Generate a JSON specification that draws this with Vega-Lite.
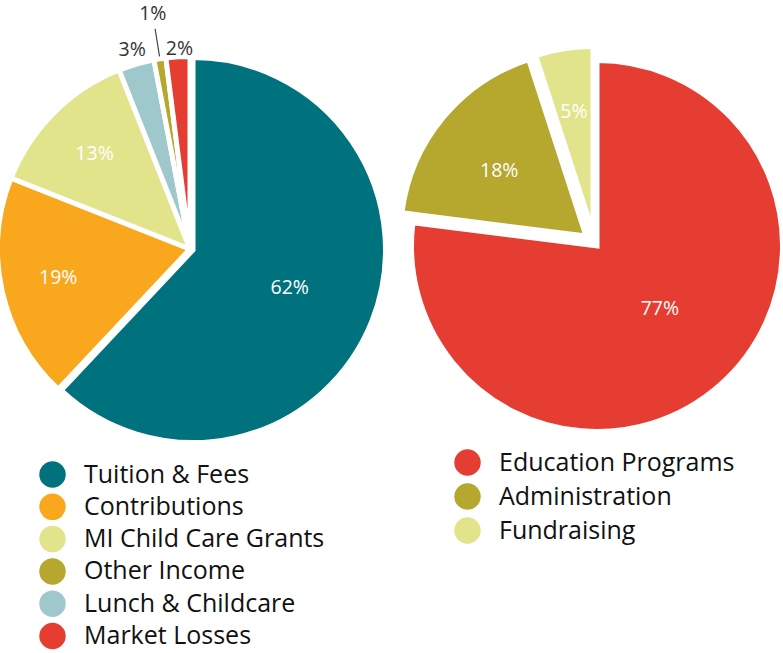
{
  "$schema": "https://vega.github.io/schema/vega-lite/v6.json",
  "padding": 0,
  "spacing": 14,
  "bounds": "flush",
  "background": "white",
  "config": {
    "view": {"stroke": null},
    "font": "Open Sans",
    "text": {"font": "Open Sans", "fontSize": 19.5},
    "legend": {
      "orient": "none",
      "title": null,
      "symbolType": "circle",
      "symbolSize": 700,
      "symbolStrokeWidth": 0,
      "symbolOpacity": 1,
      "labelFont": "Open Sans",
      "labelFontSize": 25,
      "labelLimit": 500,
      "labelColor": "#111111",
      "labelOffset": 18,
      "padding": 0,
      "rowPadding": 6
    }
  },
  "datasets": {
    "revenue": [
      {"k": "Tuition & Fees", "v": 0.62, "i": 1},
      {"k": "Contributions", "v": 0.19, "i": 2},
      {"k": "MI Child Care Grants", "v": 0.13, "i": 3},
      {"k": "Lunch & Childcare", "v": 0.03, "i": 4},
      {"k": "Other Income", "v": 0.01, "i": 5},
      {"k": "Market Losses", "v": 0.02, "i": 6}
    ],
    "expenses": [
      {"k": "Education Programs", "v": 0.77, "i": 1},
      {"k": "Administration", "v": 0.18, "i": 2},
      {"k": "Fundraising", "v": 0.05, "i": 3}
    ]
  },
  "resolve": {"scale": {"color": "independent", "theta": "independent"}},
  "hconcat": [
    {
      "width": 386,
      "height": 500,
      "data": {"name": "revenue"},
      "encoding": {
        "theta": {"field": "v", "type": "quantitative", "stack": true},
        "order": {"field": "i", "type": "quantitative"}
      },
      "layer": [
        {
          "mark": {"type": "arc", "clip": true, "radius": 192.5, "stroke": "white", "strokeWidth": 5, "xOffset": -3, "yOffset": -1},
          "encoding": {
            "color": {
              "field": "k", "type": "nominal",
              "scale": {
                "domain": ["Tuition & Fees", "Contributions", "MI Child Care Grants", "Other Income", "Lunch & Childcare", "Market Losses"],
                "range": ["#00727E", "#F9A81E", "#E1E48A", "#B6A72F", "#9FC8CD", "#E53D31"]
              },
              "legend": {"legendX": 39, "legendY": 461, "rowPadding": 5.3}
            },
            "opacity": {"condition": {"test": "datum.k == 'Tuition & Fees'", "value": 0}, "value": 1}
          }
        },
        {
          "mark": {"type": "arc", "clip": true, "radius": 192.5, "stroke": "white", "strokeWidth": 5},
          "encoding": {
            "color": {"field": "k", "type": "nominal"},
            "opacity": {"condition": {"test": "datum.k == 'Tuition & Fees'", "value": 1}, "value": 0}
          }
        },
        {
          "mark": {"type": "arc", "clip": true, "radius": 223, "radius2": 195, "padAngle": 1, "filled": false, "stroke": "#444444", "strokeWidth": 1.2, "xOffset": -3, "yOffset": -1},
          "encoding": {
            "strokeOpacity": {"condition": {"test": "datum.k == 'Other Income'", "value": 1}, "value": 0}
          }
        },
        {
          "mark": {"type": "text", "clip": true, "radius": 104, "fill": "white"},
          "encoding": {
            "text": {"field": "v", "type": "quantitative", "format": ".0%"},
            "opacity": {"condition": {"test": "datum.k == 'Tuition & Fees'", "value": 1}, "value": 0}
          }
        },
        {
          "mark": {"type": "text", "clip": true, "radius": 135, "fill": "white", "xOffset": -3, "yOffset": -1},
          "encoding": {
            "text": {"field": "v", "type": "quantitative", "format": ".0%"},
            "opacity": {"condition": {"test": "datum.k == 'Contributions' || datum.k == 'MI Child Care Grants'", "value": 1}, "value": 0}
          }
        },
        {
          "mark": {"type": "text", "clip": true, "radius": 207, "fill": "#333333", "xOffset": -3, "yOffset": -1},
          "encoding": {
            "text": {"field": "v", "type": "quantitative", "format": ".0%"},
            "opacity": {"condition": {"test": "datum.k == 'Lunch & Childcare'", "value": 1}, "value": 0}
          }
        },
        {
          "mark": {"type": "text", "clip": true, "radius": 200, "fill": "#333333", "xOffset": -1, "yOffset": -1},
          "encoding": {
            "text": {"field": "v", "type": "quantitative", "format": ".0%"},
            "opacity": {"condition": {"test": "datum.k == 'Market Losses'", "value": 1}, "value": 0}
          }
        },
        {
          "mark": {"type": "text", "clip": true, "radius": 238, "fill": "#333333", "xOffset": -3, "yOffset": -1},
          "encoding": {
            "text": {"field": "v", "type": "quantitative", "format": ".0%"},
            "opacity": {"condition": {"test": "datum.k == 'Other Income'", "value": 1}, "value": 0}
          }
        }
      ]
    },
    {
      "width": 380,
      "height": 492,
      "data": {"name": "expenses"},
      "encoding": {
        "theta": {"field": "v", "type": "quantitative", "stack": true},
        "order": {"field": "i", "type": "quantitative"}
      },
      "layer": [
        {
          "mark": {"type": "arc", "clip": true, "radius": 185.5, "stroke": "white", "strokeWidth": 5, "xOffset": 7},
          "encoding": {
            "color": {
              "field": "k", "type": "nominal",
              "scale": {
                "domain": ["Education Programs", "Administration", "Fundraising"],
                "range": ["#E53D31", "#B6A72F", "#E1E48A"]
              },
              "legend": {"legendX": 54, "legendY": 449, "rowPadding": 7}
            },
            "opacity": {"condition": {"test": "datum.k == 'Education Programs'", "value": 1}, "value": 0}
          }
        },
        {
          "mark": {"type": "arc", "clip": true, "radius": 185.5, "stroke": "white", "strokeWidth": 5, "xOffset": -4, "yOffset": -10},
          "encoding": {
            "color": {"field": "k", "type": "nominal"},
            "opacity": {"condition": {"test": "datum.k == 'Administration'", "value": 1}, "value": 0}
          }
        },
        {
          "mark": {"type": "arc", "clip": true, "radius": 185.5, "stroke": "white", "strokeWidth": 5, "xOffset": 3, "yOffset": -14},
          "encoding": {
            "color": {"field": "k", "type": "nominal"},
            "opacity": {"condition": {"test": "datum.k == 'Fundraising'", "value": 1}, "value": 0}
          }
        },
        {
          "mark": {"type": "text", "clip": true, "radius": 92, "fill": "white", "xOffset": 9, "yOffset": -6},
          "encoding": {
            "text": {"field": "v", "type": "quantitative", "format": ".0%"},
            "opacity": {"condition": {"test": "datum.k == 'Education Programs'", "value": 1}, "value": 0}
          }
        },
        {
          "mark": {"type": "text", "clip": true, "radius": 110, "fill": "white", "xOffset": -6, "yOffset": -5},
          "encoding": {
            "text": {"field": "v", "type": "quantitative", "format": ".0%"},
            "opacity": {"condition": {"test": "datum.k == 'Administration'", "value": 1}, "value": 0}
          }
        },
        {
          "mark": {"type": "text", "clip": true, "radius": 122, "fill": "white", "xOffset": 3, "yOffset": -14},
          "encoding": {
            "text": {"field": "v", "type": "quantitative", "format": ".0%"},
            "opacity": {"condition": {"test": "datum.k == 'Fundraising'", "value": 1}, "value": 0}
          }
        }
      ]
    }
  ]
}
